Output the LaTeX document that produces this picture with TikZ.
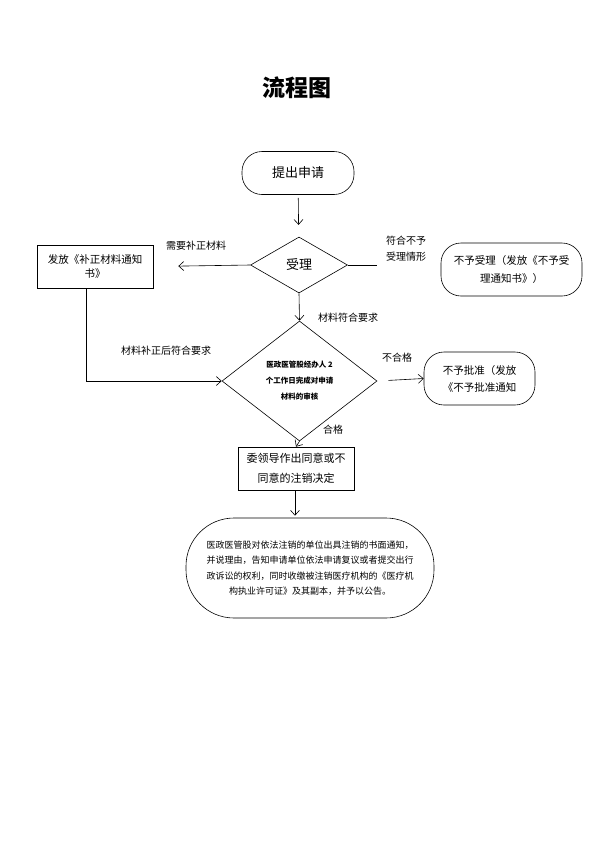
\documentclass[tikz,border=0pt]{standalone}
\usepackage{fontspec}
\setmainfont{Noto Sans CJK SC}
\usetikzlibrary{shapes.geometric,arrows.meta}

\begin{document}
\begin{tikzpicture}[x=1pt, y=-1pt,
    box/.style={draw, line width=0.6pt, minimum width=116, minimum height=43,
        align=center, inner sep=2pt, font=\fontsize{11}{20}\selectfont},
    roundbox/.style={box, rounded corners=20pt},
    judge/.style={draw, diamond, aspect=1.3, line width=0.6pt, align=center, inner sep=0pt},
    arr/.style={-{Straight Barb[length=5pt,width=9pt]}, line width=0.6pt},
    lbl/.style={align=center, font=\fontsize{10}{16}\selectfont}]

    \useasboundingbox (0,0) rectangle (595,841);

    % ==========================================
    % Title
    % ==========================================
    \node[font=\fontsize{23}{28}\selectfont\bfseries] (title) at (297,88) {流程图};

    % ==========================================
    % Nodes
    % ==========================================
    \node[roundbox, minimum width=112, font=\fontsize{13}{20}\selectfont] (start) at (298,173) {提出申请};
    \node[judge, minimum width=97, minimum height=56, font=\fontsize{13}{20}\selectfont] (shouli) at (299,265) {受理};
    \node[box, font=\fontsize{10.5}{14}\selectfont] (buzheng) at (95,266.5) {发放《补正材料通知\\书》};
    \node[roundbox, minimum width=141, minimum height=53, font=\fontsize{10.5}{18}\selectfont] (buyu) at (511.5,269.5) {不予受理（发放《不予受\\理通知书》）};
    \node[judge, minimum width=155, minimum height=120, font=\fontsize{7.5}{16}\selectfont\bfseries] (shenhe) at (299.5,381) {医政医管股经办人 2\\个工作日完成对申请\\材料的审核};
    \node[roundbox, minimum width=111, minimum height=53, font=\fontsize{10.5}{17}\selectfont] (bupizhun) at (479.5,378.5) {不予批准（发放\\《不予批准通知};
    \node[box, font=\fontsize{11}{20}\selectfont] (jueding) at (296,468.5) {委领导作出同意或不\\同意的注销决定};
    \node[roundbox, rounded corners=48pt, minimum width=248, minimum height=100, font=\fontsize{9}{15.5}\selectfont] (gonggao) at (310,568)
        {医政医管股对依法注销的单位出具注销的书面通知，\\并说理由，告知申请单位依法申请复议或者提交出行\\政诉讼的权利，同时收缴被注销医疗机构的《医疗机\\构执业许可证》及其副本，并予以公告。};

    % ==========================================
    % Connectors
    % ==========================================
    \draw[arr, shorten <=3pt, shorten >=12pt] (start) -- (shouli);
    \draw[arr, shorten >=25pt] (shouli.west) -- (buzheng.east);
    \coordinate (buyuend) at (377,265);
    \draw[line width=0.6pt] (shouli.east) -- (buyuend);
    \draw[arr] (shouli.south) -- (shenhe.north);
    \draw[arr] ([xshift=-9pt]buzheng.south) |- (shenhe.west);
    \draw[arr, shorten <=11pt] (shenhe.east) -- (bupizhun.west);
    \draw[arr] (shenhe.south) -- (jueding.north);
    \draw[arr, shorten >=2pt] (jueding.south -| 295,0) -- (gonggao.north -| 295,0);

    % Labels
    \node[lbl] (l1) at (196,246) {需要补正材料};
    \node[lbl] (l2) at (406,249) {符合不予\\受理情形};
    \node[lbl] (l3) at (348,318) {材料符合要求};
    \node[lbl] (l4) at (166,351) {材料补正后符合要求};
    \node[lbl] (l5) at (397,358) {不合格};
    \node[lbl] (l6) at (333,430) {合格};
\end{tikzpicture}
\end{document}
